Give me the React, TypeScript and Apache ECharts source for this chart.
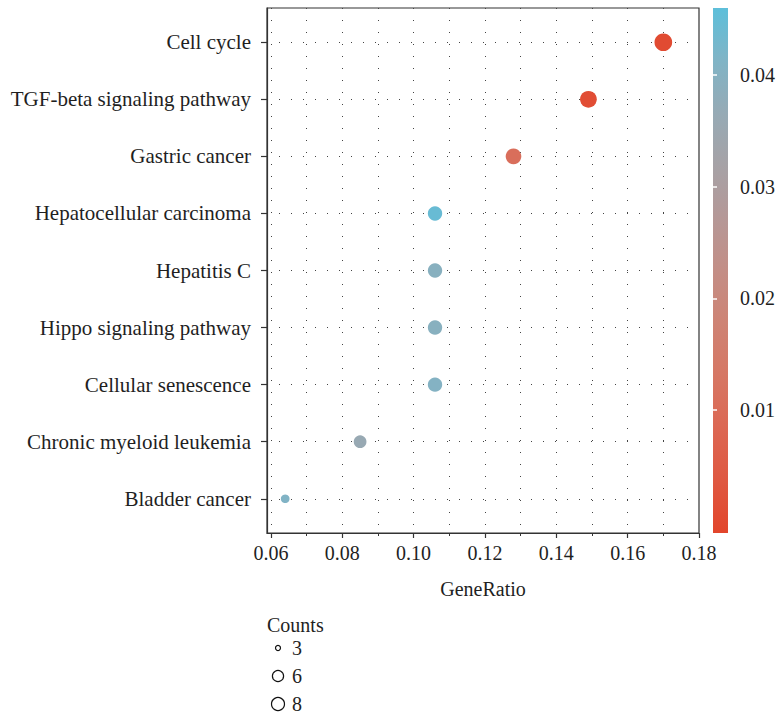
import React, { useEffect, useRef } from "react";
import * as echarts from "echarts";

const categories = [
  "Cell cycle",
  "TGF-beta signaling pathway",
  "Gastric cancer",
  "Hepatocellular carcinoma",
  "Hepatitis C",
  "Hippo signaling pathway",
  "Cellular senescence",
  "Chronic myeloid leukemia",
  "Bladder cancer",
];
const geneRatio = [0.17, 0.149, 0.128, 0.106, 0.106, 0.106, 0.106, 0.085, 0.064];
const counts = [8, 7, 6, 5, 5, 5, 5, 4, 3];
const pAdjust = [0.0005, 0.001, 0.0105, 0.0445, 0.0395, 0.0395, 0.0405, 0.036, 0.041];
const yTickValues = [1, 2, 3, 4, 5, 6, 7, 8, 9];
const xMajorTicks = [0.06, 0.08, 0.1, 0.12, 0.14, 0.16, 0.18];
const xMinorTicks = [0.06, 0.07, 0.08, 0.09, 0.1, 0.11, 0.12, 0.13, 0.14, 0.15, 0.16, 0.17];
const colorTicks = [0.01, 0.02, 0.03, 0.04];
const legendCounts = [3, 6, 8];
const colorStops = [
  "#E2452B",
  "#DF5841",
  "#DC6753",
  "#D67764",
  "#CE8374",
  "#C38E86",
  "#B59897",
  "#A6A2A6",
  "#96AAB5",
  "#80B4C6",
  "#5DBFDA",
];

const FONT = "'Liberation Serif', 'DejaVu Serif', serif";
const TXT = "#1f1f1f";

const P_MIN = -0.001;
const P_MAX = 0.046;
const C_MIN = 3;
const C_MAX = 8;
const sizeScale = (c: number) => 8.7 + 9 * Math.sqrt((c - C_MIN) / (C_MAX - C_MIN));
const legendScale = (c: number) => 5 + 8 * Math.sqrt((c - C_MIN) / (C_MAX - C_MIN));

export default function App() {
  const ref = useRef<HTMLDivElement>(null);
  useEffect(() => {
    if (!ref.current) return;
    const chart = echarts.init(ref.current, null, { renderer: "svg" });
    const dotted = { type: [1, 11] as any, color: "#444", width: 1 };
    const legendGraphics: any[] = [
      {
        type: "text",
        left: 267,
        top: 615,
        style: { text: "Counts", font: `20px ${FONT}`, fill: TXT },
      },
    ];
    legendCounts.forEach((c, i) => {
      const cy = 648 + i * 28;
      legendGraphics.push({
        type: "circle",
        shape: { cx: 278, cy, r: legendScale(c) / 2 },
        style: { fill: "none", stroke: "#111", lineWidth: 1.2 },
      });
      legendGraphics.push({
        type: "text",
        x: 292,
        y: cy,
        style: {
          text: String(c),
          font: `20px ${FONT}`,
          fill: TXT,
          verticalAlign: "middle",
          align: "left",
        },
      });
    });

    chart.setOption({
      animation: false,
      backgroundColor: "#fff",
      textStyle: { fontFamily: FONT },
      grid: [
        {
          left: 267,
          top: 8,
          width: 432,
          height: 525,
          show: true,
          borderColor: "#333",
          borderWidth: 1.2,
          backgroundColor: "transparent",
        },
        {
          left: 713,
          top: 8,
          width: 16,
          height: 525,
          show: true,
          borderWidth: 0,
          backgroundColor: new echarts.graphic.LinearGradient(
            0,
            1,
            0,
            0,
            colorStops.map((c, i) => ({ offset: i / (colorStops.length - 1), color: c }))
          ),
        },
      ],
      xAxis: [
        {
          type: "value",
          gridIndex: 0,
          min: 0.0589,
          max: 0.18,
          position: "bottom",
          axisLine: { show: true, lineStyle: { color: "#333", width: 1.2 } },
          axisTick: { show: true, customValues: xMajorTicks, length: 5, lineStyle: { color: "#333", width: 1.2 } },
          axisLabel: {
            customValues: xMajorTicks,
            formatter: (v: number) => v.toFixed(2),
            fontSize: 20,
            fontFamily: FONT,
            color: TXT,
            margin: 10,
          },
          splitLine: { show: false },
          name: "GeneRatio",
          nameLocation: "middle",
          nameGap: 46,
          nameTextStyle: { fontSize: 20, fontFamily: FONT, color: TXT },
        },
        {
          type: "value",
          gridIndex: 0,
          min: 0.0589,
          max: 0.18,
          position: "bottom",
          axisLine: { show: false },
          axisTick: { show: true, customValues: xMinorTicks, length: 3, lineStyle: { color: "#333", width: 1 } },
          axisLabel: { show: false, customValues: xMinorTicks },
          splitLine: { show: true, lineStyle: dotted },
        },
        {
          type: "value",
          gridIndex: 1,
          show: false,
          min: 0,
          max: 1,
        },
      ],
      yAxis: [
        {
          type: "value",
          gridIndex: 0,
          min: 0.4,
          max: 9.6,
          inverse: true,
          axisLine: { show: true, lineStyle: { color: "#333", width: 1.2 } },
          axisTick: { show: true, customValues: yTickValues, length: 6, lineStyle: { color: "#333", width: 1.2 } },
          axisLabel: {
            customValues: yTickValues,
            formatter: (v: number) => categories[Math.round(v) - 1] ?? "",
            fontSize: 21,
            fontFamily: FONT,
            color: TXT,
            margin: 16,
          },
          splitLine: { show: true, lineStyle: dotted },
        },
        {
          type: "value",
          gridIndex: 1,
          min: P_MIN,
          max: P_MAX,
          position: "right",
          axisLine: { show: false },
          axisTick: { show: true, inside: true, customValues: colorTicks, length: 4, lineStyle: { color: "#fff", width: 1.5 } },
          axisLabel: {
            customValues: colorTicks,
            formatter: (v: number) => v.toFixed(2),
            fontSize: 20,
            fontFamily: FONT,
            color: TXT,
            margin: 12,
          },
          splitLine: { show: false },
        },
        {
          type: "value",
          gridIndex: 1,
          min: P_MIN,
          max: P_MAX,
          position: "left",
          axisLine: { show: false },
          axisTick: { show: true, inside: true, customValues: colorTicks, length: 4, lineStyle: { color: "#fff", width: 1.5 } },
          axisLabel: { show: false, customValues: colorTicks },
          splitLine: { show: false },
        },
      ],
      visualMap: {
        type: "continuous",
        show: false,
        min: P_MIN,
        max: P_MAX,
        dimension: 2,
        seriesIndex: 0,
        inRange: { color: colorStops },
      },
      series: [
        {
          type: "scatter",
          xAxisIndex: 0,
          yAxisIndex: 0,
          data: categories.map((_, i) => [geneRatio[i], i + 1, pAdjust[i], counts[i]]),
          symbol: "circle",
          symbolSize: (d: number[]) => sizeScale(d[3]),
          itemStyle: { opacity: 1 },
          z: 5,
        },
      ],
      graphic: legendGraphics,
    });
    return () => chart.dispose();
  }, []);
  return (
    <div
      ref={ref}
      style={{ position: "fixed", left: 0, top: 0, width: 778, height: 716, background: "#fff" }}
    />
  );
}
